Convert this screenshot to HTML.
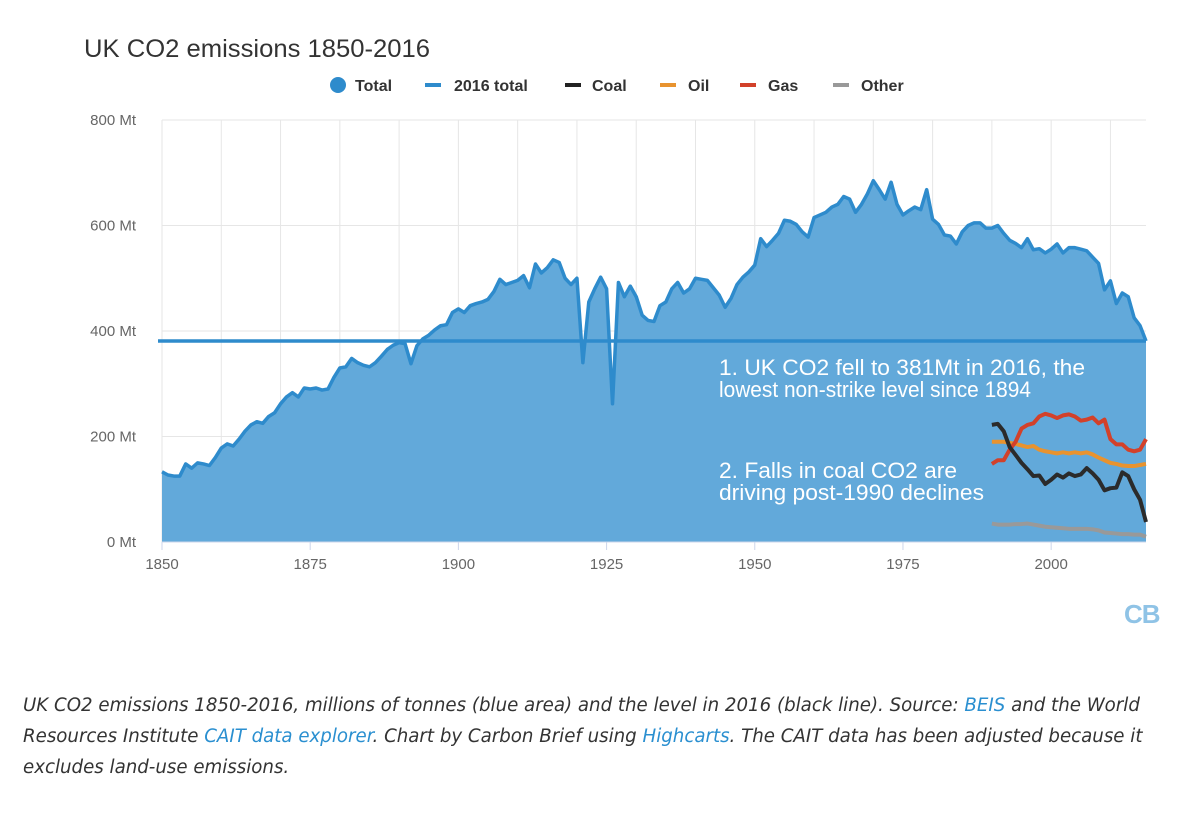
<!DOCTYPE html>
<html><head><meta charset="utf-8"><style>
body{margin:0;background:#fff;width:1200px;height:813px;overflow:hidden;font-family:"Liberation Sans",sans-serif;}
.cap{position:absolute;left:23px;top:690px;width:1170px;font-style:italic;line-height:31px;color:#333;font-family:"DejaVu Sans","Liberation Sans",sans-serif;font-size:18.2px}
.cap a{color:#2a8fd0;text-decoration:none}
</style></head><body>
<svg id="chart" width="1200" height="813" style="position:absolute;left:0;top:0" font-family="Liberation Sans, sans-serif">
<text x="84" y="57" font-size="25" fill="#333" textLength="346" lengthAdjust="spacingAndGlyphs">UK CO2 emissions 1850-2016</text>
<g id="legend" font-size="16" font-weight="bold" fill="#333">
<g><circle cx="338" cy="85" r="8" fill="#2e8bcc"/><text x="355" y="91">Total</text></g>
<g><rect x="425" y="83" width="16" height="4" fill="#2e8bcc"/><text x="454" y="91">2016 total</text></g>
<g><rect x="565" y="83" width="16" height="4" fill="#222"/><text x="592" y="91">Coal</text></g>
<g><rect x="660" y="83" width="16" height="4" fill="#e8932f"/><text x="688" y="91">Oil</text></g>
<g><rect x="740" y="83" width="16" height="4" fill="#d2412a"/><text x="768" y="91">Gas</text></g>
<g><rect x="833" y="83" width="16" height="4" fill="#999"/><text x="861" y="91">Other</text></g>
</g>
<g id="grid"></g>
<g id="plot"></g>
<g id="axes" font-size="15" fill="#666"></g>
<g font-size="22" fill="#fff">
<text x="719" y="375" textLength="366" lengthAdjust="spacingAndGlyphs">1. UK CO2 fell to 381Mt in 2016, the</text>
<text x="719" y="397" textLength="312" lengthAdjust="spacingAndGlyphs">lowest non-strike level since 1894</text></g>
<g font-size="22" fill="#fff">
<text x="719" y="478" textLength="238" lengthAdjust="spacingAndGlyphs">2. Falls in coal CO2 are</text>
<text x="719" y="500" textLength="265" lengthAdjust="spacingAndGlyphs">driving post-1990 declines</text></g>
<text x="1124" y="623" font-size="26" font-weight="bold" fill="#8fc3e6" letter-spacing="-1">CB</text>
</svg>
<div class="cap">UK CO2 emissions 1850-2016, millions of tonnes (blue area) and the level in 2016 (black line). Source: <a>BEIS</a> and the World Resources Institute <a>CAIT data explorer</a>. Chart by Carbon Brief using <a>Highcarts</a>. The CAIT data has been adjusted because it excludes land-use emissions.</div>
<script>
const totalStart = 1850;
const total = [133,127,125,125,148,140,150,148,145,160,178,186,182,195,210,222,228,225,238,245,262,275,283,275,292,290,292,288,290,312,330,332,348,340,335,332,340,352,365,373,378,376,338,372,385,392,402,410,412,435,442,435,448,452,455,460,475,498,488,492,496,505,482,527,510,520,535,530,500,488,500,340,455,480,502,480,262,492,465,485,465,430,420,418,448,455,480,492,472,480,500,498,496,482,468,445,462,488,502,512,525,575,560,572,585,610,608,602,588,578,615,620,625,635,640,655,650,625,640,660,685,668,650,682,640,620,628,635,630,668,612,602,582,580,565,588,600,605,605,595,595,600,585,572,566,558,575,554,556,548,555,565,548,558,558,555,552,540,528,478,495,452,472,465,425,410,381];
const level2016 = 381;
const fuelStart = 1990;
const coal = [222,224,210,180,165,150,138,125,126,110,118,128,122,130,125,128,140,130,118,98,102,103,132,125,100,80,38];
const gas = [148,155,155,175,190,215,222,225,238,243,240,235,240,242,238,230,232,236,225,232,195,185,185,175,172,175,195];
const oil = [190,190,190,188,186,183,180,182,175,172,170,168,170,168,170,168,170,166,160,155,150,148,145,144,144,146,148];
const other = [35,33,33,33,34,34,35,33,31,29,28,27,26,25,25,25,25,24,22,18,17,16,15,15,14,14,10];
const yTicks = [0,200,400,600,800];
const xTicks = [1850,1875,1900,1925,1950,1975,2000];

const NS='http://www.w3.org/2000/svg';
const X0=162,X1=1146,Y0=542,Y1=120;
const x=yr=>X0+(yr-1850)*(X1-X0)/(2016-1850);
const y=v=>Y0-v*(Y0-Y1)/800;
function mk(tag,attrs,parent){const e=document.createElementNS(NS,tag);for(const k in attrs)e.setAttribute(k,attrs[k]);parent.appendChild(e);return e;}
const grid=document.getElementById('grid'),plot=document.getElementById('plot'),axes=document.getElementById('axes');
for(let yr=1850;yr<=2010;yr+=10){const l=mk('line',{x1:x(yr),x2:x(yr),y1:Y1,y2:Y0,stroke:'#e6e6e6'},grid);

}
yTicks.forEach(v=>{const l=mk('line',{x1:X0,x2:X1,y1:y(v),y2:y(v),stroke:'#e6e6e6'},grid);


const t=mk('text',{x:136,y:y(v)+5,'text-anchor':'end'},axes);t.textContent=v+' Mt';

});
xTicks.forEach(v=>{const t=mk('text',{x:x(v),y:Y0+27,'text-anchor':'middle'},axes);t.textContent=v;


const k=mk('line',{x1:x(v),x2:x(v),y1:Y0,y2:Y0+8,stroke:'#ccd6eb'},axes);

});
let pts=total.map((v,i)=>x(totalStart+i)+','+y(v)).join(' ');
const area=mk('polygon',{points:x(totalStart)+','+Y0+' '+pts+' '+x(totalStart+total.length-1)+','+Y0,fill:'#62a9da'},plot);


const tl=mk('polyline',{points:pts,fill:'none',stroke:'#2e8bcc','stroke-width':3.5,'stroke-linejoin':'round'},plot);


const lv=mk('line',{x1:X0-4,x2:X1,y1:y(level2016),y2:y(level2016),stroke:'#2e8bcc','stroke-width':3.5},plot);


const base=mk('line',{x1:X0,x2:X1,y1:Y0,y2:Y0,stroke:'#ccd6eb'},axes);


[[other,'#999','other-line'],[oil,'#e8932f','oil-line'],[gas,'#d2412a','gas-line'],[coal,'#2b2b2b','coal-line']].forEach(([arr,c,n])=>{
const p=mk('polyline',{points:arr.map((v,i)=>x(fuelStart+i)+','+y(v)).join(' '),fill:'none',stroke:c,'stroke-width':4,'stroke-linejoin':'round'},plot);

});
</script>
</body></html>
